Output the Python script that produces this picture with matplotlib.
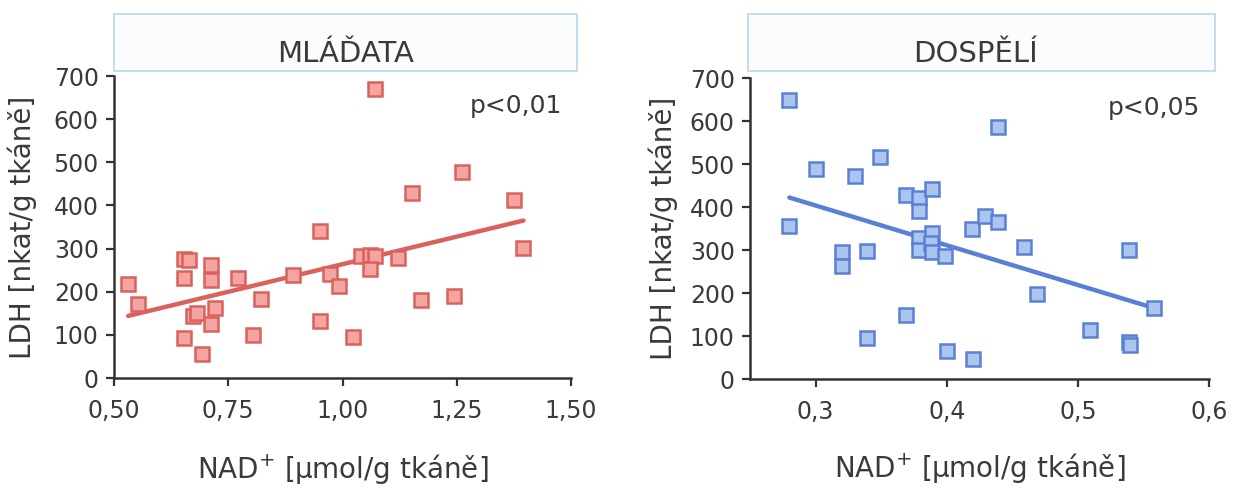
import matplotlib.pyplot as plt
from matplotlib.patches import Rectangle

# mláďata: NAD+ vs LDH
young_nad = [0.531, 0.552, 0.652, 0.663, 0.652, 0.652, 0.672, 0.682, 0.692, 0.712, 0.712,
             0.712, 0.722, 0.771, 0.803, 0.821, 0.891, 0.951, 0.951, 0.973, 0.992, 1.022,
             1.040, 1.060, 1.072, 1.060, 1.072, 1.122, 1.151, 1.171, 1.243, 1.262, 1.375, 1.396]
young_ldh = [218, 172, 277, 274, 231, 93, 143, 150, 56, 261, 228,
             126, 162, 231, 100, 183, 238, 341, 133, 241, 214, 95,
             282, 284, 282, 253, 670, 279, 428, 181, 189, 478, 413, 301]
young_fit_x = [0.531, 1.396]
young_fit_y = [144, 365]

# dospělí: NAD+ vs LDH
adult_nad = [0.280, 0.280, 0.300, 0.320, 0.320, 0.330, 0.339, 0.339, 0.349, 0.369, 0.369,
             0.379, 0.379, 0.379, 0.379, 0.389, 0.389, 0.388, 0.389, 0.399, 0.400, 0.419,
             0.420, 0.429, 0.439, 0.439, 0.459, 0.469, 0.509, 0.539, 0.539, 0.540, 0.558]
adult_ldh = [648, 357, 488, 295, 262, 471, 298, 95, 517, 429, 149,
             422, 390, 328, 301, 443, 340, 316, 295, 285, 64, 349,
             47, 380, 586, 364, 307, 198, 113, 301, 85, 80, 165]
adult_fit_x = [0.280, 0.558]
adult_fit_y = [422, 165]

y_ticks = [0, 100, 200, 300, 400, 500, 600, 700]
young_xticks = [0.50, 0.75, 1.00, 1.25, 1.50]
young_xlabels = ["0,50", "0,75", "1,00", "1,25", "1,50"]
adult_xticks = [0.3, 0.4, 0.5, 0.6]
adult_xlabels = ["0,3", "0,4", "0,5", "0,6"]

fig = plt.figure(figsize=(12.33, 4.91), dpi=100)
ax1 = fig.add_axes([0.0925, 0.2301, 0.3706, 0.6151])
ax2 = fig.add_axes([0.6083, 0.2281, 0.3723, 0.6130])

text_col = "#3a3a3a"
panels = [
    (ax1, young_nad, young_ldh, young_fit_x, young_fit_y, "#d9625d", "#f4a5a1",
     (0.5, 1.5), young_xticks, young_xlabels, "p<0,01"),
    (ax2, adult_nad, adult_ldh, adult_fit_x, adult_fit_y, "#5a80d6", "#aac5ee",
     (0.25, 0.6), adult_xticks, adult_xlabels, "p<0,05"),
]

for ax, x, y, fx, fy, edge, fill, xlim, xt, xl, ptext in panels:
    ax.plot(fx, fy, color=edge, linewidth=3.2, solid_capstyle="round", zorder=2)
    ax.plot(x, y, linestyle="none", marker="s", markersize=10,
            markerfacecolor=fill, markeredgecolor=edge, markeredgewidth=1.8, zorder=3)
    ax.set_xlim(*xlim)
    ax.set_ylim(0, 700)
    ax.set_xticks(xt)
    ax.set_xticklabels(xl)
    ax.set_yticks(y_ticks)
    for side in ["top", "right"]:
        ax.spines[side].set_visible(False)
    for side in ["left", "bottom"]:
        ax.spines[side].set_color("#333333")
        ax.spines[side].set_linewidth(1.8)
    ax.tick_params(axis="both", colors="#333333", width=1.6, length=6,
                   labelsize=17, labelcolor=text_col, pad=5)
    ax.tick_params(axis="x", pad=9)
    ax.set_xlabel("NAD$^{+}$ [µmol/g tkáně]", fontsize=20, color=text_col, va="center")
    ax.set_ylabel("LDH [nkat/g tkáně]", fontsize=20, color=text_col, va="center")
    ax.text(0.98, 0.90, ptext, transform=ax.transAxes, ha="right", va="center",
            fontsize=18, color=text_col)
    ax.patch.set_alpha(0)

ax1.xaxis.set_label_coords(0.5, -0.30)
ax2.xaxis.set_label_coords(0.5, -0.295)
ax1.yaxis.set_label_coords(-0.20, 0.5)
ax2.yaxis.set_label_coords(-0.19, 0.5)

# title boxes above each panel
for x0, w, label, cx in [(0.0925, 0.3755, "MLÁĎATA", 0.280),
                         (0.6067, 0.3787, "DOSPĚLÍ", 0.791)]:
    fig.patches.append(Rectangle((x0, 0.855), w, 0.117, transform=fig.transFigure,
                                 facecolor="#fbfcfd", edgecolor="#b9d7ec", linewidth=1.2))
    fig.text(cx, 0.89, label, ha="center", va="center", fontsize=21, color=text_col)

fig.savefig("out.png", dpi=100)
